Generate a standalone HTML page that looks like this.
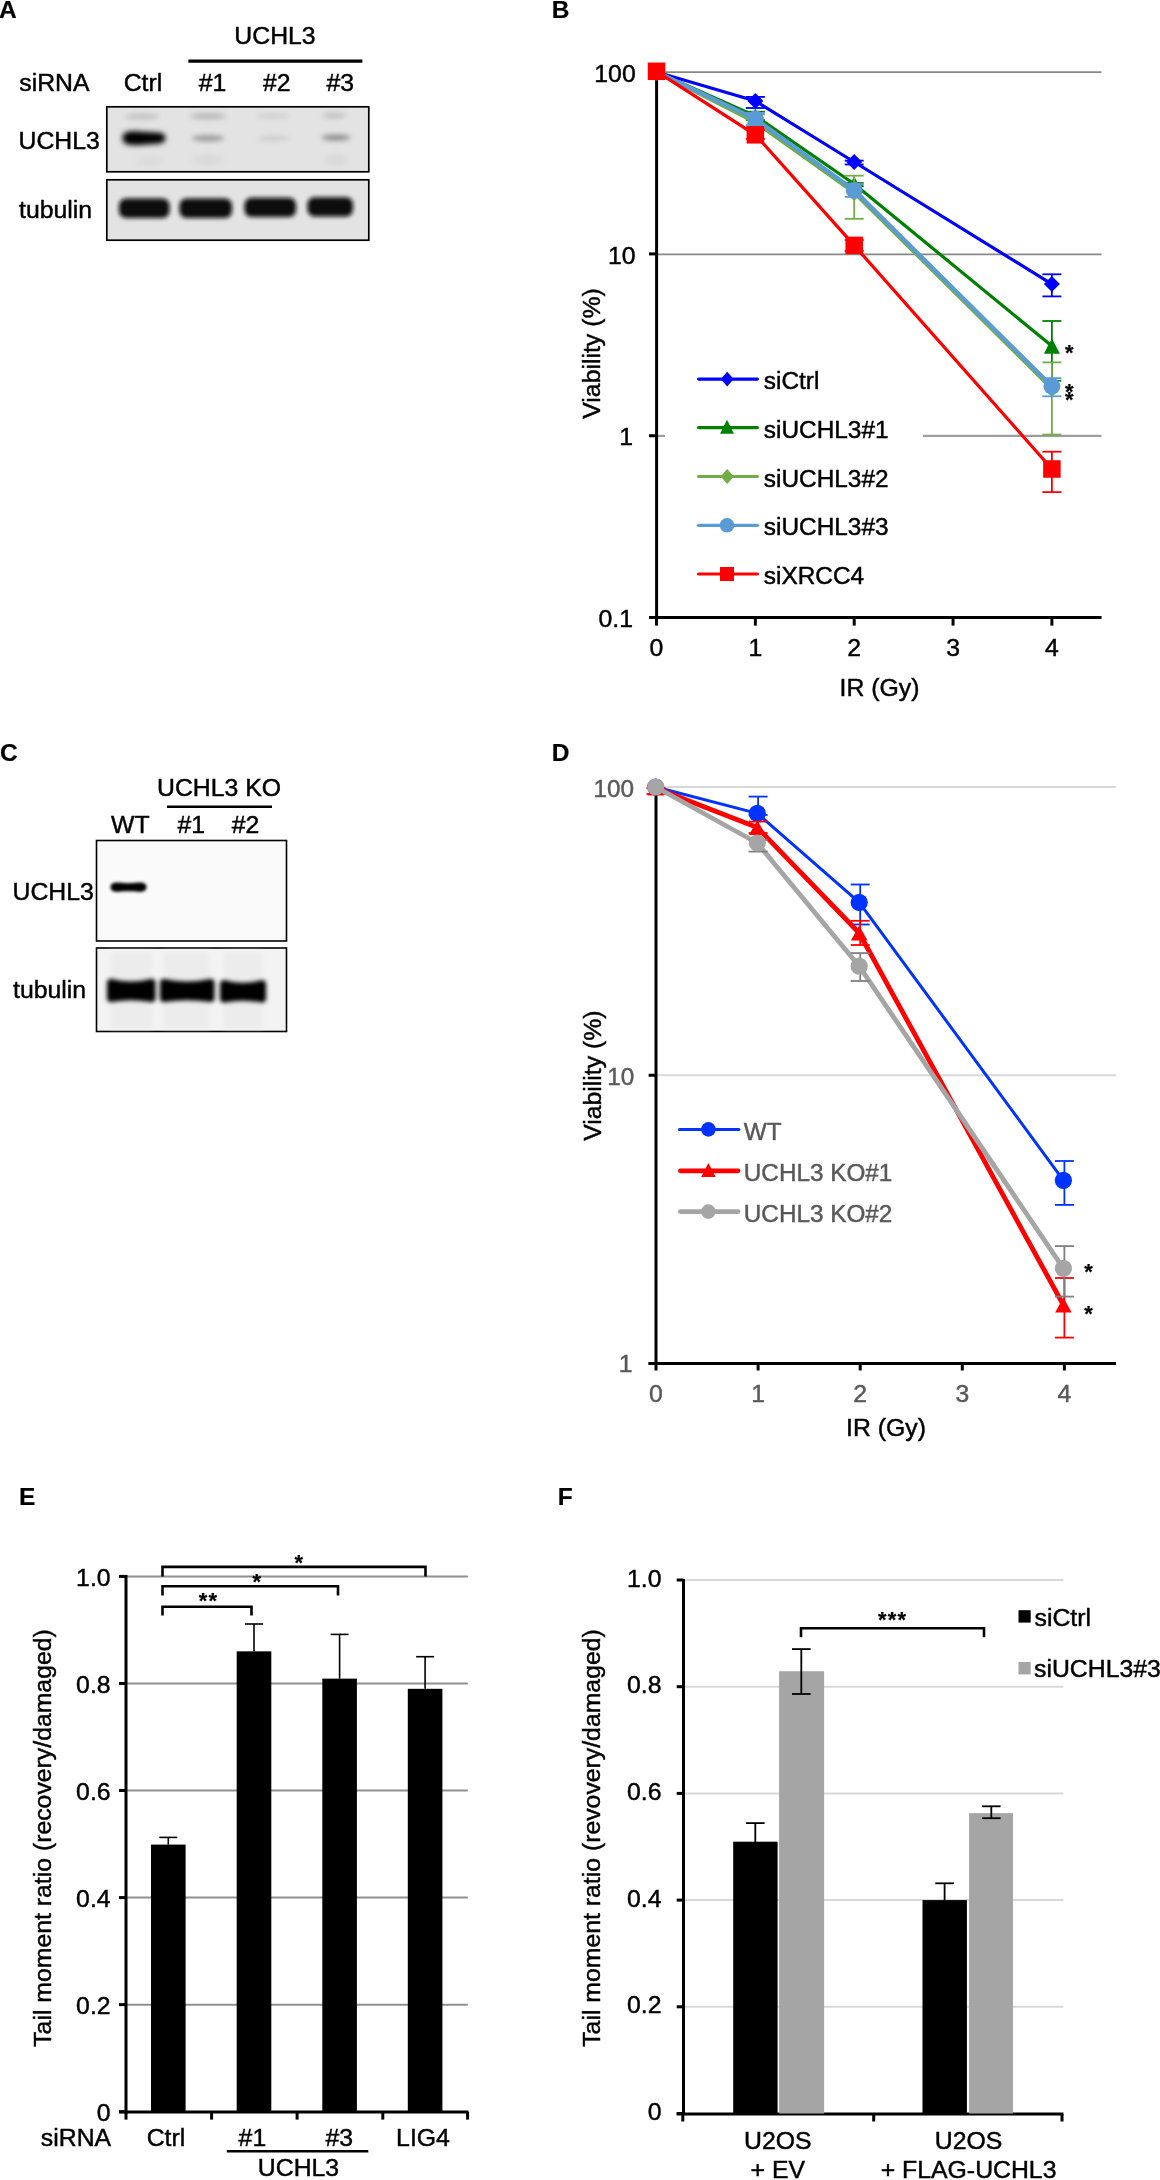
<!DOCTYPE html>
<html><head><meta charset="utf-8"><style>
html,body{margin:0;padding:0;background:#fff;}
body{width:1160px;height:2180px;overflow:hidden;}
svg{display:block;font-family:"Liberation Sans", sans-serif;will-change:transform;}
</style></head><body>
<svg width="1160" height="2180" viewBox="0 0 1160 2180">
<defs>
<filter id="blur3" x="-50%" y="-50%" width="200%" height="200%"><feGaussianBlur stdDeviation="2.6"/></filter>
<filter id="blur2" x="-50%" y="-50%" width="200%" height="200%"><feGaussianBlur stdDeviation="1.6"/></filter>
<filter id="blur22" x="-50%" y="-50%" width="200%" height="200%"><feGaussianBlur stdDeviation="2.1"/></filter>
<filter id="blur15" x="-50%" y="-50%" width="200%" height="200%"><feGaussianBlur stdDeviation="0.8"/></filter>
</defs>
<rect width="1160" height="2180" fill="#fff"/>
<text x="-1" y="17.8" font-size="24.5" text-anchor="start" fill="#000" stroke="#000" stroke-width="0.2" font-weight="bold" >A</text>
<text x="551.8" y="17.8" font-size="24.5" text-anchor="start" fill="#000" stroke="#000" stroke-width="0.2" font-weight="bold" >B</text>
<text x="0" y="760.6" font-size="24.5" text-anchor="start" fill="#000" stroke="#000" stroke-width="0.2" font-weight="bold" >C</text>
<text x="551.8" y="760.7" font-size="24.5" text-anchor="start" fill="#000" stroke="#000" stroke-width="0.2" font-weight="bold" >D</text>
<text x="19" y="1504.7" font-size="24.5" text-anchor="start" fill="#000" stroke="#000" stroke-width="0.2" font-weight="bold" >E</text>
<text x="557.8" y="1504.7" font-size="24.5" text-anchor="start" fill="#000" stroke="#000" stroke-width="0.2" font-weight="bold" >F</text>
<text x="275" y="43.6" font-size="24.8" text-anchor="middle" fill="#000" stroke="#000" stroke-width="0.45" font-weight="normal" >UCHL3</text>
<line x1="188.4" y1="61.2" x2="362.4" y2="61.2" stroke="#000" stroke-width="3.2" />
<text x="19.3" y="90.8" font-size="24.8" text-anchor="start" fill="#000" stroke="#000" stroke-width="0.45" font-weight="normal" >siRNA</text>
<text x="143" y="90.8" font-size="24.8" text-anchor="middle" fill="#000" stroke="#000" stroke-width="0.45" font-weight="normal" >Ctrl</text>
<text x="212.5" y="90.8" font-size="24.8" text-anchor="middle" fill="#000" stroke="#000" stroke-width="0.45" font-weight="normal" >#1</text>
<text x="276.8" y="90.8" font-size="24.8" text-anchor="middle" fill="#000" stroke="#000" stroke-width="0.45" font-weight="normal" >#2</text>
<text x="340.3" y="90.8" font-size="24.8" text-anchor="middle" fill="#000" stroke="#000" stroke-width="0.45" font-weight="normal" >#3</text>
<text x="18.5" y="149" font-size="24.8" text-anchor="start" fill="#000" stroke="#000" stroke-width="0.45" font-weight="normal" >UCHL3</text>
<text x="19" y="218.4" font-size="24.8" text-anchor="start" fill="#000" stroke="#000" stroke-width="0.45" font-weight="normal" >tubulin</text>
<rect x="106.8" y="106.8" width="262" height="65" fill="#e3e3e3" stroke="#000" stroke-width="1.7"/>
<rect x="106.8" y="179.8" width="262" height="60.4" fill="#e3e3e3" stroke="#000" stroke-width="1.7"/>
<g filter="url(#blur3)">
<ellipse cx="142" cy="116.5" rx="18" ry="3" fill="#c2c2c2"/>
<ellipse cx="208" cy="116.2" rx="18" ry="3.2" fill="#b9b9b9"/>
<ellipse cx="273" cy="116" rx="17" ry="2.6" fill="#cdcdcd"/>
<ellipse cx="334" cy="115.5" rx="12" ry="3.2" fill="#c4c4c4"/>
<ellipse cx="208" cy="160" rx="16" ry="6" fill="#dadada"/>
<ellipse cx="336" cy="160" rx="12" ry="6" fill="#dadada"/>
<ellipse cx="150" cy="161" rx="14" ry="5" fill="#dcdcdc"/>
<g filter="url(#blur15)"><path d="M122.5,138 C122.5,131 130,131 140,131.6 L160,132.8 C167,133.4 167.5,142.6 160,143.4 L140,145 C130,145.6 122.5,145 122.5,138 Z" fill="#000"/></g>
<ellipse cx="208" cy="138.3" rx="16" ry="3.2" fill="#9c9c9c"/>
<ellipse cx="274" cy="138.5" rx="16" ry="2.6" fill="#cbcbcb"/>
<ellipse cx="336" cy="137.6" rx="14" ry="3.2" fill="#8d8d8d"/>
</g>
<g filter="url(#blur22)">
<rect x="119.0" y="198.5" width="50.5" height="19.5" rx="7" fill="#0c0c0c"/>
<rect x="179.5" y="198.5" width="52.5" height="19.5" rx="7" fill="#0c0c0c"/>
<rect x="244.5" y="197.8" width="51.5" height="19.299999999999983" rx="7" fill="#0c0c0c"/>
<rect x="307.5" y="197.3" width="45.5" height="19.19999999999999" rx="7" fill="#0c0c0c"/>
</g>
<text x="219" y="796.3" font-size="24.8" text-anchor="middle" fill="#000" stroke="#000" stroke-width="0.45" font-weight="normal" >UCHL3 KO</text>
<line x1="167" y1="806.8" x2="272" y2="806.8" stroke="#000" stroke-width="2.6" />
<text x="130.3" y="832.5" font-size="24.8" text-anchor="middle" fill="#000" stroke="#000" stroke-width="0.45" font-weight="normal" >WT</text>
<text x="191.3" y="832.5" font-size="24.8" text-anchor="middle" fill="#000" stroke="#000" stroke-width="0.45" font-weight="normal" >#1</text>
<text x="245.6" y="832.5" font-size="24.8" text-anchor="middle" fill="#000" stroke="#000" stroke-width="0.45" font-weight="normal" >#2</text>
<text x="12.5" y="899.7" font-size="24.8" text-anchor="start" fill="#000" stroke="#000" stroke-width="0.45" font-weight="normal" >UCHL3</text>
<text x="13" y="997.6" font-size="24.8" text-anchor="start" fill="#000" stroke="#000" stroke-width="0.45" font-weight="normal" >tubulin</text>
<rect x="96.5" y="840.5" width="190" height="100.5" fill="#fafafa" stroke="#000" stroke-width="1.6"/>
<rect x="96.5" y="948" width="190" height="83.5" fill="#f3f3f3" stroke="#000" stroke-width="1.6"/>
<g filter="url(#blur3)">
<rect x="110" y="952" width="42" height="76" fill="#ececec"/>
<rect x="164" y="952" width="46" height="76" fill="#ececec"/>
<rect x="224" y="952" width="38" height="76" fill="#ececec"/>
</g>
<g filter="url(#blur2)">
<path d="M110.5,887 C110.5,882.3 116,882.3 121,882.8 C126,883.3 131,883.3 136,882.8 C141,882.3 146.5,882.3 146.5,887 C146.5,892 141,892.3 136,891.6 C131,891 126,891 121,891.6 C116,892.3 110.5,892 110.5,887 Z" fill="#000"/>
</g><g filter="url(#blur22)">
<path d="M107,982.8 C107,978.8 110,978.8 113,979.3 Q131.25,983.92 149.5,979.3 C152.5,978.8 155.5,978.8 155.5,982.8 L155.5,998.3 C155.5,1002.3 152.5,1002.3 149.5,1001.8 Q131.25,998.78 113,1001.8 C110,1002.3 107,1002.3 107,998.3 Z" fill="#000"/>
<path d="M160,982.8 C160,978.8 163,978.8 166,979.3 Q187.25,983.92 208.5,979.3 C211.5,978.8 214.5,978.8 214.5,982.8 L214.5,998.3 C214.5,1002.3 211.5,1002.3 208.5,1001.8 Q187.25,998.78 166,1001.8 C163,1002.3 160,1002.3 160,998.3 Z" fill="#000"/>
<path d="M220,984 C220,980 223,980 226,980.5 Q243.0,985.12 260,980.5 C263,980 266,980 266,984 L266,998.8 C266,1002.8 263,1002.8 260,1002.3 Q243.0,999.28 226,1002.3 C223,1002.8 220,1002.8 220,998.8 Z" fill="#000"/>
</g>
<line x1="657" y1="72.05" x2="1101.5" y2="72.05" stroke="#888" stroke-width="1.8" />
<line x1="657" y1="254.3" x2="1101.5" y2="254.3" stroke="#888" stroke-width="1.8" />
<line x1="657" y1="435.9" x2="665" y2="435.9" stroke="#9d9d9d" stroke-width="2.2" />
<line x1="923" y1="435.9" x2="1101.5" y2="435.9" stroke="#9d9d9d" stroke-width="2.2" />
<line x1="656.6" y1="70.5" x2="656.6" y2="619" stroke="#000" stroke-width="3" />
<line x1="649" y1="617.6" x2="1101.5" y2="617.6" stroke="#000" stroke-width="3" />
<line x1="649" y1="72.05" x2="657" y2="72.05" stroke="#000" stroke-width="3" />
<line x1="649" y1="253.89999999999998" x2="657" y2="253.89999999999998" stroke="#000" stroke-width="3" />
<line x1="649" y1="435.75" x2="657" y2="435.75" stroke="#000" stroke-width="3" />
<line x1="656.5" y1="617.6" x2="656.5" y2="625.6" stroke="#000" stroke-width="3" />
<line x1="755.35" y1="617.6" x2="755.35" y2="625.6" stroke="#000" stroke-width="3" />
<line x1="854.2" y1="617.6" x2="854.2" y2="625.6" stroke="#000" stroke-width="3" />
<line x1="953.05" y1="617.6" x2="953.05" y2="625.6" stroke="#000" stroke-width="3" />
<line x1="1051.9" y1="617.6" x2="1051.9" y2="625.6" stroke="#000" stroke-width="3" />
<text x="656.5" y="656" font-size="24.8" text-anchor="middle" fill="#000" stroke="#000" stroke-width="0.45" font-weight="normal" >0</text>
<text x="755.35" y="656" font-size="24.8" text-anchor="middle" fill="#000" stroke="#000" stroke-width="0.45" font-weight="normal" >1</text>
<text x="854.2" y="656" font-size="24.8" text-anchor="middle" fill="#000" stroke="#000" stroke-width="0.45" font-weight="normal" >2</text>
<text x="953.05" y="656" font-size="24.8" text-anchor="middle" fill="#000" stroke="#000" stroke-width="0.45" font-weight="normal" >3</text>
<text x="1051.9" y="656" font-size="24.8" text-anchor="middle" fill="#000" stroke="#000" stroke-width="0.45" font-weight="normal" >4</text>
<text x="635.7" y="82" font-size="24.8" text-anchor="end" fill="#000" stroke="#000" stroke-width="0.45" font-weight="normal" >100</text>
<text x="635.5" y="263.8" font-size="24.8" text-anchor="end" fill="#000" stroke="#000" stroke-width="0.45" font-weight="normal" >10</text>
<text x="633" y="445" font-size="24.8" text-anchor="end" fill="#000" stroke="#000" stroke-width="0.45" font-weight="normal" >1</text>
<text x="633" y="627.4" font-size="24.8" text-anchor="end" fill="#000" stroke="#000" stroke-width="0.45" font-weight="normal" >0.1</text>
<text x="879.5" y="695.5" font-size="24.8" text-anchor="middle" fill="#000" stroke="#000" stroke-width="0.45" font-weight="normal" >IR (Gy)</text>
<text x="600" y="353.5" font-size="24.8" text-anchor="middle" fill="#000" stroke="#000" stroke-width="0.45" font-weight="normal" transform="rotate(-90 600 353.5)">Viability (%)</text>
<path d="M656.5,72.0 L755.4,101.0 L854.2,162.0 L1051.9,284.1" fill="none" stroke="#0000ff" stroke-width="3.2" stroke-linejoin="round"/>
<line x1="755.35" y1="96.9" x2="755.35" y2="108" stroke="#0000ff" stroke-width="1.8" />
<line x1="745.85" y1="96.9" x2="764.85" y2="96.9" stroke="#0000ff" stroke-width="1.8" />
<line x1="745.85" y1="108" x2="764.85" y2="108" stroke="#0000ff" stroke-width="1.8" />
<line x1="854.2" y1="160.6" x2="854.2" y2="164.5" stroke="#0000ff" stroke-width="1.8" />
<line x1="844.7" y1="160.6" x2="863.7" y2="160.6" stroke="#0000ff" stroke-width="1.8" />
<line x1="844.7" y1="164.5" x2="863.7" y2="164.5" stroke="#0000ff" stroke-width="1.8" />
<line x1="1051.9" y1="274.3" x2="1051.9" y2="296.4" stroke="#0000ff" stroke-width="1.8" />
<line x1="1042.4" y1="274.3" x2="1061.4" y2="274.3" stroke="#0000ff" stroke-width="1.8" />
<line x1="1042.4" y1="296.4" x2="1061.4" y2="296.4" stroke="#0000ff" stroke-width="1.8" />
<path d="M656.5,64.0 L664.5,72 L656.5,80.0 L648.5,72 Z" fill="#0000ff" stroke="none" stroke-width="1" />
<path d="M755.35,93.0 L763.35,101 L755.35,109.0 L747.35,101 Z" fill="#0000ff" stroke="none" stroke-width="1" />
<path d="M854.2,154.0 L862.2,162 L854.2,170.0 L846.2,162 Z" fill="#0000ff" stroke="none" stroke-width="1" />
<path d="M1051.9,276.1 L1059.9,284.1 L1051.9,292.1 L1043.9,284.1 Z" fill="#0000ff" stroke="none" stroke-width="1" />
<path d="M656.5,72.0 L755.4,116.0 L854.2,184.0 L1051.9,346.0" fill="none" stroke="#008000" stroke-width="3.2" stroke-linejoin="round"/>
<line x1="755.35" y1="111.7" x2="755.35" y2="120" stroke="#008000" stroke-width="1.8" />
<line x1="745.85" y1="111.7" x2="764.85" y2="111.7" stroke="#008000" stroke-width="1.8" />
<line x1="745.85" y1="120" x2="764.85" y2="120" stroke="#008000" stroke-width="1.8" />
<line x1="854.2" y1="183" x2="854.2" y2="186" stroke="#008000" stroke-width="1.8" />
<line x1="844.7" y1="183" x2="863.7" y2="183" stroke="#008000" stroke-width="1.8" />
<line x1="844.7" y1="186" x2="863.7" y2="186" stroke="#008000" stroke-width="1.8" />
<line x1="1051.9" y1="321" x2="1051.9" y2="380.7" stroke="#008000" stroke-width="1.8" />
<line x1="1042.4" y1="321" x2="1061.4" y2="321" stroke="#008000" stroke-width="1.8" />
<line x1="1042.4" y1="380.7" x2="1061.4" y2="380.7" stroke="#008000" stroke-width="1.8" />
<path d="M656.5,64.25 L664.5,79.75 L648.5,79.75 Z" fill="#008000" stroke="none" stroke-width="1" />
<path d="M755.35,108.25 L763.35,123.75 L747.35,123.75 Z" fill="#008000" stroke="none" stroke-width="1" />
<path d="M854.2,176.25 L862.2,191.75 L846.2,191.75 Z" fill="#008000" stroke="none" stroke-width="1" />
<path d="M1051.9,338.25 L1059.9,353.75 L1043.9,353.75 Z" fill="#008000" stroke="none" stroke-width="1" />
<path d="M656.5,72.0 L755.4,122.5 L854.2,193.0 L1051.9,389.0" fill="none" stroke="#70ad47" stroke-width="3.2" stroke-linejoin="round"/>
<line x1="755.35" y1="114.5" x2="755.35" y2="127" stroke="#70ad47" stroke-width="1.8" />
<line x1="745.85" y1="114.5" x2="764.85" y2="114.5" stroke="#70ad47" stroke-width="1.8" />
<line x1="745.85" y1="127" x2="764.85" y2="127" stroke="#70ad47" stroke-width="1.8" />
<line x1="854.2" y1="175.7" x2="854.2" y2="218.8" stroke="#70ad47" stroke-width="1.8" />
<line x1="844.7" y1="175.7" x2="863.7" y2="175.7" stroke="#70ad47" stroke-width="1.8" />
<line x1="844.7" y1="218.8" x2="863.7" y2="218.8" stroke="#70ad47" stroke-width="1.8" />
<line x1="1051.9" y1="362.4" x2="1051.9" y2="434.6" stroke="#70ad47" stroke-width="1.8" />
<line x1="1042.4" y1="362.4" x2="1061.4" y2="362.4" stroke="#70ad47" stroke-width="1.8" />
<line x1="1042.4" y1="434.6" x2="1061.4" y2="434.6" stroke="#70ad47" stroke-width="1.8" />
<path d="M656.5,64.0 L664.5,72 L656.5,80.0 L648.5,72 Z" fill="#70ad47" stroke="none" stroke-width="1" />
<path d="M755.35,114.5 L763.35,122.5 L755.35,130.5 L747.35,122.5 Z" fill="#70ad47" stroke="none" stroke-width="1" />
<path d="M854.2,185.0 L862.2,193 L854.2,201.0 L846.2,193 Z" fill="#70ad47" stroke="none" stroke-width="1" />
<path d="M1051.9,381.0 L1059.9,389 L1051.9,397.0 L1043.9,389 Z" fill="#70ad47" stroke="none" stroke-width="1" />
<path d="M656.5,72.0 L755.4,118.8 L854.2,190.3 L1051.9,386.2" fill="none" stroke="#5b9bd5" stroke-width="4.2" stroke-linejoin="round"/>
<line x1="755.35" y1="113" x2="755.35" y2="125" stroke="#5b9bd5" stroke-width="1.8" />
<line x1="745.85" y1="113" x2="764.85" y2="113" stroke="#5b9bd5" stroke-width="1.8" />
<line x1="745.85" y1="125" x2="764.85" y2="125" stroke="#5b9bd5" stroke-width="1.8" />
<line x1="854.2" y1="184.1" x2="854.2" y2="196.9" stroke="#5b9bd5" stroke-width="1.8" />
<line x1="844.7" y1="184.1" x2="863.7" y2="184.1" stroke="#5b9bd5" stroke-width="1.8" />
<line x1="844.7" y1="196.9" x2="863.7" y2="196.9" stroke="#5b9bd5" stroke-width="1.8" />
<line x1="1051.9" y1="378.1" x2="1051.9" y2="396.3" stroke="#5b9bd5" stroke-width="1.8" />
<line x1="1042.4" y1="378.1" x2="1061.4" y2="378.1" stroke="#5b9bd5" stroke-width="1.8" />
<line x1="1042.4" y1="396.3" x2="1061.4" y2="396.3" stroke="#5b9bd5" stroke-width="1.8" />
<circle cx="656.5" cy="72" r="8.4" fill="#5b9bd5"/>
<circle cx="755.35" cy="118.8" r="8.4" fill="#5b9bd5"/>
<circle cx="854.2" cy="190.3" r="8.4" fill="#5b9bd5"/>
<circle cx="1051.9" cy="386.2" r="8.4" fill="#5b9bd5"/>
<path d="M656.5,71.3 L755.4,134.8 L854.2,245.4 L1051.9,469.0" fill="none" stroke="#ff0000" stroke-width="3.2" stroke-linejoin="round"/>
<line x1="755.35" y1="130" x2="755.35" y2="139" stroke="#ff0000" stroke-width="1.8" />
<line x1="745.85" y1="130" x2="764.85" y2="130" stroke="#ff0000" stroke-width="1.8" />
<line x1="745.85" y1="139" x2="764.85" y2="139" stroke="#ff0000" stroke-width="1.8" />
<line x1="854.2" y1="240" x2="854.2" y2="251" stroke="#ff0000" stroke-width="1.8" />
<line x1="844.7" y1="240" x2="863.7" y2="240" stroke="#ff0000" stroke-width="1.8" />
<line x1="844.7" y1="251" x2="863.7" y2="251" stroke="#ff0000" stroke-width="1.8" />
<line x1="1051.9" y1="451.7" x2="1051.9" y2="492.1" stroke="#ff0000" stroke-width="1.8" />
<line x1="1042.4" y1="451.7" x2="1061.4" y2="451.7" stroke="#ff0000" stroke-width="1.8" />
<line x1="1042.4" y1="492.1" x2="1061.4" y2="492.1" stroke="#ff0000" stroke-width="1.8" />
<rect x="647.75" y="62.55" width="17.5" height="17.5" fill="#ff0000" />
<rect x="746.6" y="126.05000000000001" width="17.5" height="17.5" fill="#ff0000" />
<rect x="845.45" y="236.65" width="17.5" height="17.5" fill="#ff0000" />
<rect x="1043.15" y="460.25" width="17.5" height="17.5" fill="#ff0000" />
<text x="1065" y="360.2" font-size="22" text-anchor="start" fill="#000" stroke="#000" stroke-width="0.2" font-weight="bold" letter-spacing="1.2">*</text>
<text x="1065" y="399.2" font-size="22" text-anchor="start" fill="#000" stroke="#000" stroke-width="0.2" font-weight="bold" letter-spacing="1.2">*</text>
<text x="1065" y="407.3" font-size="22" text-anchor="start" fill="#000" stroke="#000" stroke-width="0.2" font-weight="bold" letter-spacing="1.2">*</text>
<line x1="698.6" y1="379.1" x2="757.4" y2="379.1" stroke="#0000ff" stroke-width="3.2" stroke-linecap="round"/>
<path d="M727.2,371.70000000000005 L733.7,379.1 L727.2,386.5 L720.7,379.1 Z" fill="#0000ff" stroke="none" stroke-width="1" />
<text x="763.8" y="389.1" font-size="24.4" text-anchor="start" fill="#000" stroke="#000" stroke-width="0.45" font-weight="normal" >siCtrl</text>
<line x1="698.6" y1="427.6" x2="757.4" y2="427.6" stroke="#008000" stroke-width="3.2" stroke-linecap="round"/>
<path d="M727,419.8 L734.0,433.8 L720.0,433.8 Z" fill="#008000" stroke="none" stroke-width="1" />
<text x="763.8" y="437.6" font-size="24.4" text-anchor="start" fill="#000" stroke="#000" stroke-width="0.45" font-weight="normal" >siUCHL3#1</text>
<line x1="698.6" y1="476.5" x2="757.4" y2="476.5" stroke="#70ad47" stroke-width="3.2" stroke-linecap="round"/>
<path d="M727.2,469.1 L733.7,476.5 L727.2,483.9 L720.7,476.5 Z" fill="#70ad47" stroke="none" stroke-width="1" />
<text x="763.8" y="486.5" font-size="24.4" text-anchor="start" fill="#000" stroke="#000" stroke-width="0.45" font-weight="normal" >siUCHL3#2</text>
<line x1="698.6" y1="525.3" x2="757.4" y2="525.3" stroke="#5b9bd5" stroke-width="3.2" stroke-linecap="round"/>
<circle cx="727" cy="525.3" r="7.3" fill="#5b9bd5"/>
<text x="763.8" y="535.3" font-size="24.4" text-anchor="start" fill="#000" stroke="#000" stroke-width="0.45" font-weight="normal" >siUCHL3#3</text>
<line x1="698.6" y1="574" x2="757.4" y2="574" stroke="#ff0000" stroke-width="3.2" stroke-linecap="round"/>
<rect x="720.0" y="567.0" width="14" height="14" fill="#ff0000" />
<text x="763.8" y="584" font-size="24.4" text-anchor="start" fill="#000" stroke="#000" stroke-width="0.45" font-weight="normal" >siXRCC4</text>
<line x1="657" y1="787.0" x2="1116" y2="787.0" stroke="#d9d9d9" stroke-width="2" />
<line x1="657" y1="1075.25" x2="1116" y2="1075.25" stroke="#d9d9d9" stroke-width="2" />
<line x1="656" y1="786" x2="656" y2="1365" stroke="#000" stroke-width="3" />
<line x1="648.6" y1="1363.5" x2="1116" y2="1363.5" stroke="#000" stroke-width="3" />
<line x1="648.6" y1="787.0" x2="656" y2="787.0" stroke="#000" stroke-width="3" />
<line x1="648.6" y1="1075.25" x2="656" y2="1075.25" stroke="#000" stroke-width="3" />
<line x1="648.6" y1="1363.5" x2="656" y2="1363.5" stroke="#000" stroke-width="3" />
<line x1="656.0" y1="1363.5" x2="656.0" y2="1370.5" stroke="#000" stroke-width="3" />
<line x1="758.1" y1="1363.5" x2="758.1" y2="1370.5" stroke="#000" stroke-width="3" />
<line x1="860.2" y1="1363.5" x2="860.2" y2="1370.5" stroke="#000" stroke-width="3" />
<line x1="962.3" y1="1363.5" x2="962.3" y2="1370.5" stroke="#000" stroke-width="3" />
<line x1="1064.4" y1="1363.5" x2="1064.4" y2="1370.5" stroke="#000" stroke-width="3" />
<text x="656.0" y="1402" font-size="24.8" text-anchor="middle" fill="#595959" stroke="#595959" stroke-width="0.45" font-weight="normal" >0</text>
<text x="758.1" y="1402" font-size="24.8" text-anchor="middle" fill="#595959" stroke="#595959" stroke-width="0.45" font-weight="normal" >1</text>
<text x="860.2" y="1402" font-size="24.8" text-anchor="middle" fill="#595959" stroke="#595959" stroke-width="0.45" font-weight="normal" >2</text>
<text x="962.3" y="1402" font-size="24.8" text-anchor="middle" fill="#595959" stroke="#595959" stroke-width="0.45" font-weight="normal" >3</text>
<text x="1064.4" y="1402" font-size="24.8" text-anchor="middle" fill="#595959" stroke="#595959" stroke-width="0.45" font-weight="normal" >4</text>
<text x="634" y="797" font-size="24.3" text-anchor="end" fill="#595959" stroke="#595959" stroke-width="0.45" font-weight="normal" >100</text>
<text x="634.3" y="1085" font-size="24.3" text-anchor="end" fill="#595959" stroke="#595959" stroke-width="0.45" font-weight="normal" >10</text>
<text x="632.5" y="1372.4" font-size="24.8" text-anchor="end" fill="#595959" stroke="#595959" stroke-width="0.45" font-weight="normal" >1</text>
<text x="886" y="1435.5" font-size="24.8" text-anchor="middle" fill="#000" stroke="#000" stroke-width="0.45" font-weight="normal" >IR (Gy)</text>
<text x="601.3" y="1075.6" font-size="24.8" text-anchor="middle" fill="#000" stroke="#000" stroke-width="0.45" font-weight="normal" transform="rotate(-90 601.3 1075.6)">Viability (%)</text>
<path d="M655.7,787.0 L757.3,813.4 L859.2,902.4 L1063.4,1180.3" fill="none" stroke="#0033ff" stroke-width="3" stroke-linejoin="round"/>
<line x1="758.1" y1="796.6" x2="758.1" y2="815" stroke="#0033ff" stroke-width="1.8" />
<line x1="748.6" y1="796.6" x2="767.6" y2="796.6" stroke="#0033ff" stroke-width="1.8" />
<line x1="748.6" y1="815" x2="767.6" y2="815" stroke="#0033ff" stroke-width="1.8" />
<line x1="860.2" y1="884.5" x2="860.2" y2="924.5" stroke="#0033ff" stroke-width="1.8" />
<line x1="850.7" y1="884.5" x2="869.7" y2="884.5" stroke="#0033ff" stroke-width="1.8" />
<line x1="850.7" y1="924.5" x2="869.7" y2="924.5" stroke="#0033ff" stroke-width="1.8" />
<line x1="1064.4" y1="1161" x2="1064.4" y2="1204.9" stroke="#0033ff" stroke-width="1.8" />
<line x1="1054.9" y1="1161" x2="1073.9" y2="1161" stroke="#0033ff" stroke-width="1.8" />
<line x1="1054.9" y1="1204.9" x2="1073.9" y2="1204.9" stroke="#0033ff" stroke-width="1.8" />
<circle cx="655.7" cy="787" r="8.6" fill="#0033ff"/>
<circle cx="757.3000000000001" cy="813.4" r="8.6" fill="#0033ff"/>
<circle cx="859.2" cy="902.4" r="8.6" fill="#0033ff"/>
<circle cx="1063.4" cy="1180.3" r="8.6" fill="#0033ff"/>
<path d="M655.7,788.0 L757.3,827.5 L859.2,933.0 L1063.4,1305.0" fill="none" stroke="#ff0000" stroke-width="4.8" stroke-linejoin="round"/>
<line x1="656.0" y1="788" x2="656.0" y2="794" stroke="#ff0000" stroke-width="1.8" />
<line x1="646.5" y1="788" x2="665.5" y2="788" stroke="#ff0000" stroke-width="1.8" />
<line x1="646.5" y1="794" x2="665.5" y2="794" stroke="#ff0000" stroke-width="1.8" />
<line x1="758.1" y1="821.6" x2="758.1" y2="833" stroke="#ff0000" stroke-width="1.8" />
<line x1="748.6" y1="821.6" x2="767.6" y2="821.6" stroke="#ff0000" stroke-width="1.8" />
<line x1="748.6" y1="833" x2="767.6" y2="833" stroke="#ff0000" stroke-width="1.8" />
<line x1="860.2" y1="920.8" x2="860.2" y2="945" stroke="#ff0000" stroke-width="1.8" />
<line x1="850.7" y1="920.8" x2="869.7" y2="920.8" stroke="#ff0000" stroke-width="1.8" />
<line x1="850.7" y1="945" x2="869.7" y2="945" stroke="#ff0000" stroke-width="1.8" />
<line x1="1064.4" y1="1278" x2="1064.4" y2="1337.6" stroke="#ff0000" stroke-width="1.8" />
<line x1="1054.9" y1="1278" x2="1073.9" y2="1278" stroke="#ff0000" stroke-width="1.8" />
<line x1="1054.9" y1="1337.6" x2="1073.9" y2="1337.6" stroke="#ff0000" stroke-width="1.8" />
<path d="M655.7,780.5 L663.95,795.5 L647.45,795.5 Z" fill="#ff0000" stroke="none" stroke-width="1" />
<path d="M757.3000000000001,820.0 L765.5500000000001,835.0 L749.0500000000001,835.0 Z" fill="#ff0000" stroke="none" stroke-width="1" />
<path d="M859.2,925.5 L867.45,940.5 L850.95,940.5 Z" fill="#ff0000" stroke="none" stroke-width="1" />
<path d="M1063.4,1297.5 L1071.65,1312.5 L1055.15,1312.5 Z" fill="#ff0000" stroke="none" stroke-width="1" />
<path d="M655.7,787.0 L757.3,843.0 L859.2,966.2 L1063.4,1268.3" fill="none" stroke="#a5a5a5" stroke-width="4.8" stroke-linejoin="round"/>
<line x1="758.1" y1="840" x2="758.1" y2="851.6" stroke="#7f7f7f" stroke-width="1.8" />
<line x1="748.6" y1="840" x2="767.6" y2="840" stroke="#7f7f7f" stroke-width="1.8" />
<line x1="748.6" y1="851.6" x2="767.6" y2="851.6" stroke="#7f7f7f" stroke-width="1.8" />
<line x1="860.2" y1="953.1" x2="860.2" y2="981" stroke="#7f7f7f" stroke-width="1.8" />
<line x1="850.7" y1="953.1" x2="869.7" y2="953.1" stroke="#7f7f7f" stroke-width="1.8" />
<line x1="850.7" y1="981" x2="869.7" y2="981" stroke="#7f7f7f" stroke-width="1.8" />
<line x1="1064.4" y1="1246.1" x2="1064.4" y2="1296.6" stroke="#7f7f7f" stroke-width="1.8" />
<line x1="1054.9" y1="1246.1" x2="1073.9" y2="1246.1" stroke="#7f7f7f" stroke-width="1.8" />
<line x1="1054.9" y1="1296.6" x2="1073.9" y2="1296.6" stroke="#7f7f7f" stroke-width="1.8" />
<circle cx="655.7" cy="787" r="8.6" fill="#a5a5a5"/>
<circle cx="757.3000000000001" cy="843" r="8.6" fill="#a5a5a5"/>
<circle cx="859.2" cy="966.2" r="8.6" fill="#a5a5a5"/>
<circle cx="1063.4" cy="1268.3" r="8.6" fill="#a5a5a5"/>
<text x="1084.2" y="1279.2" font-size="22" text-anchor="start" fill="#000" stroke="#000" stroke-width="0.2" font-weight="bold" letter-spacing="1.2">*</text>
<text x="1084.2" y="1321" font-size="22" text-anchor="start" fill="#000" stroke="#000" stroke-width="0.2" font-weight="bold" letter-spacing="1.2">*</text>
<line x1="679.5" y1="1129.4" x2="738.9" y2="1129.4" stroke="#0033ff" stroke-width="3" stroke-linecap="round"/>
<circle cx="708.4" cy="1129.4" r="7.3" fill="#0033ff"/>
<text x="743.8" y="1139.9" font-size="24.3" text-anchor="start" fill="#595959" stroke="#595959" stroke-width="0.45" font-weight="normal" >WT</text>
<line x1="680.4" y1="1170.8" x2="738.0" y2="1170.8" stroke="#ff0000" stroke-width="4.8" stroke-linecap="round"/>
<path d="M708.4,1163.0 L715.65,1177.0 L701.15,1177.0 Z" fill="#ff0000" stroke="none" stroke-width="1" />
<text x="743.8" y="1181.3" font-size="24.3" text-anchor="start" fill="#595959" stroke="#595959" stroke-width="0.45" font-weight="normal" >UCHL3 KO#1</text>
<line x1="680.4" y1="1211.6" x2="738.0" y2="1211.6" stroke="#a5a5a5" stroke-width="4.8" stroke-linecap="round"/>
<circle cx="708.4" cy="1211.6" r="7.3" fill="#a5a5a5"/>
<text x="743.8" y="1222.1" font-size="24.3" text-anchor="start" fill="#595959" stroke="#595959" stroke-width="0.45" font-weight="normal" >UCHL3 KO#2</text>
<line x1="126" y1="2004.6399999999999" x2="467" y2="2004.6399999999999" stroke="#909090" stroke-width="2" stroke-linecap="round"/>
<line x1="126" y1="1897.58" x2="467" y2="1897.58" stroke="#909090" stroke-width="2" stroke-linecap="round"/>
<line x1="126" y1="1790.52" x2="467" y2="1790.52" stroke="#909090" stroke-width="2" stroke-linecap="round"/>
<line x1="126" y1="1683.46" x2="467" y2="1683.46" stroke="#909090" stroke-width="2" stroke-linecap="round"/>
<line x1="126" y1="1576.4" x2="467" y2="1576.4" stroke="#909090" stroke-width="2" stroke-linecap="round"/>
<line x1="126" y1="1575" x2="126" y2="2113.5" stroke="#000" stroke-width="3" />
<line x1="119" y1="2112" x2="468.5" y2="2112" stroke="#000" stroke-width="3" />
<line x1="119" y1="2111.7" x2="126" y2="2111.7" stroke="#000" stroke-width="3" />
<line x1="119" y1="2004.6399999999999" x2="126" y2="2004.6399999999999" stroke="#000" stroke-width="3" />
<line x1="119" y1="1897.58" x2="126" y2="1897.58" stroke="#000" stroke-width="3" />
<line x1="119" y1="1790.52" x2="126" y2="1790.52" stroke="#000" stroke-width="3" />
<line x1="119" y1="1683.46" x2="126" y2="1683.46" stroke="#000" stroke-width="3" />
<line x1="119" y1="1576.4" x2="126" y2="1576.4" stroke="#000" stroke-width="3" />
<line x1="126" y1="2112" x2="126" y2="2119.6" stroke="#000" stroke-width="3" />
<line x1="211.6" y1="2112" x2="211.6" y2="2119.6" stroke="#000" stroke-width="3" />
<line x1="297.1" y1="2112" x2="297.1" y2="2119.6" stroke="#000" stroke-width="3" />
<line x1="382.8" y1="2112" x2="382.8" y2="2119.6" stroke="#000" stroke-width="3" />
<line x1="467.6" y1="2112" x2="467.6" y2="2119.6" stroke="#000" stroke-width="3" />
<text x="110.6" y="2121.0" font-size="24.8" text-anchor="end" fill="#000" stroke="#000" stroke-width="0.45" font-weight="normal" >0</text>
<text x="110.6" y="2013.9399999999998" font-size="24.8" text-anchor="end" fill="#000" stroke="#000" stroke-width="0.45" font-weight="normal" >0.2</text>
<text x="110.6" y="1906.8799999999999" font-size="24.8" text-anchor="end" fill="#000" stroke="#000" stroke-width="0.45" font-weight="normal" >0.4</text>
<text x="110.6" y="1799.82" font-size="24.8" text-anchor="end" fill="#000" stroke="#000" stroke-width="0.45" font-weight="normal" >0.6</text>
<text x="110.6" y="1692.76" font-size="24.8" text-anchor="end" fill="#000" stroke="#000" stroke-width="0.45" font-weight="normal" >0.8</text>
<text x="110.6" y="1585.7" font-size="24.8" text-anchor="end" fill="#000" stroke="#000" stroke-width="0.45" font-weight="normal" >1.0</text>
<rect x="151.0" y="1844.5853" width="34.6" height="267.11469999999986" fill="#000" />
<line x1="168.3" y1="1837.4" x2="168.3" y2="1844.5853" stroke="#000" stroke-width="1.6" />
<line x1="159.3" y1="1837.4" x2="177.3" y2="1837.4" stroke="#000" stroke-width="1.6" />
<rect x="236.7" y="1651.342" width="34.6" height="460.3579999999997" fill="#000" />
<line x1="254" y1="1624" x2="254" y2="1651.342" stroke="#000" stroke-width="1.6" />
<line x1="245" y1="1624" x2="263" y2="1624" stroke="#000" stroke-width="1.6" />
<rect x="322.3" y="1678.6423" width="34.6" height="433.05769999999984" fill="#000" />
<line x1="339.6" y1="1634.4" x2="339.6" y2="1678.6423" stroke="#000" stroke-width="1.6" />
<line x1="330.6" y1="1634.4" x2="348.6" y2="1634.4" stroke="#000" stroke-width="1.6" />
<rect x="407.8" y="1688.813" width="34.6" height="422.8869999999997" fill="#000" />
<line x1="425.1" y1="1656.7" x2="425.1" y2="1688.813" stroke="#000" stroke-width="1.6" />
<line x1="416.1" y1="1656.7" x2="434.1" y2="1656.7" stroke="#000" stroke-width="1.6" />
<path d="M162.5,1576.5 L162.5,1566.9 L425.5,1566.9 L425.5,1576.5" fill="none" stroke="#000" stroke-width="2.6" />
<path d="M162.5,1595.5 L162.5,1586.3 L338,1586.3 L338,1595.5" fill="none" stroke="#000" stroke-width="2.6" />
<path d="M162.5,1615.5 L162.5,1606.8 L251.5,1606.8 L251.5,1615.5" fill="none" stroke="#000" stroke-width="2.6" />
<text x="294.5" y="1570" font-size="22" text-anchor="start" fill="#000" stroke="#000" stroke-width="0.2" font-weight="bold" letter-spacing="1.2">*</text>
<text x="252.5" y="1588.75" font-size="22" text-anchor="start" fill="#000" stroke="#000" stroke-width="0.2" font-weight="bold" letter-spacing="1.2">*</text>
<text x="198.75" y="1607.5" font-size="22" text-anchor="start" fill="#000" stroke="#000" stroke-width="0.2" font-weight="bold" letter-spacing="1.2">**</text>
<text x="76" y="2146" font-size="24.8" text-anchor="middle" fill="#000" stroke="#000" stroke-width="0.45" font-weight="normal" >siRNA</text>
<text x="166" y="2146" font-size="24.8" text-anchor="middle" fill="#000" stroke="#000" stroke-width="0.45" font-weight="normal" >Ctrl</text>
<text x="252.4" y="2146" font-size="24.8" text-anchor="middle" fill="#000" stroke="#000" stroke-width="0.45" font-weight="normal" >#1</text>
<text x="339.3" y="2146" font-size="24.8" text-anchor="middle" fill="#000" stroke="#000" stroke-width="0.45" font-weight="normal" >#3</text>
<text x="423" y="2146" font-size="24.8" text-anchor="middle" fill="#000" stroke="#000" stroke-width="0.45" font-weight="normal" >LIG4</text>
<line x1="226.8" y1="2151.3" x2="368.3" y2="2151.3" stroke="#000" stroke-width="2.6" />
<text x="298.5" y="2176" font-size="24.8" text-anchor="middle" fill="#000" stroke="#000" stroke-width="0.45" font-weight="normal" >UCHL3</text>
<text x="52.3" y="1837" font-size="24.8" text-anchor="middle" fill="#000" stroke="#000" stroke-width="0.45" font-weight="normal" transform="rotate(-90 52.3 1838)">Tail moment ratio (recovery/damaged)</text>
<line x1="685" y1="2006.8" x2="1063.3" y2="2006.8" stroke="#d9d9d9" stroke-width="2" />
<line x1="685" y1="1900.1" x2="1063.3" y2="1900.1" stroke="#d9d9d9" stroke-width="2" />
<line x1="685" y1="1793.4" x2="1063.3" y2="1793.4" stroke="#d9d9d9" stroke-width="2" />
<line x1="685" y1="1686.7" x2="1063.3" y2="1686.7" stroke="#d9d9d9" stroke-width="2" />
<line x1="685" y1="1580.0" x2="1063.3" y2="1580.0" stroke="#d9d9d9" stroke-width="2" />
<line x1="683.5" y1="1579" x2="683.5" y2="2115" stroke="#000" stroke-width="3" />
<line x1="676.7" y1="2114" x2="1063.4" y2="2114" stroke="#000" stroke-width="3" />
<line x1="676.7" y1="2113.5" x2="683.5" y2="2113.5" stroke="#000" stroke-width="3" />
<line x1="676.7" y1="2006.8" x2="683.5" y2="2006.8" stroke="#000" stroke-width="3" />
<line x1="676.7" y1="1900.1" x2="683.5" y2="1900.1" stroke="#000" stroke-width="3" />
<line x1="676.7" y1="1793.4" x2="683.5" y2="1793.4" stroke="#000" stroke-width="3" />
<line x1="676.7" y1="1686.7" x2="683.5" y2="1686.7" stroke="#000" stroke-width="3" />
<line x1="676.7" y1="1580.0" x2="683.5" y2="1580.0" stroke="#000" stroke-width="3" />
<line x1="682.8" y1="2114" x2="682.8" y2="2121.5" stroke="#000" stroke-width="3" />
<line x1="873.7" y1="2114" x2="873.7" y2="2121.5" stroke="#000" stroke-width="3" />
<line x1="1062" y1="2114" x2="1062" y2="2121.5" stroke="#000" stroke-width="3" />
<text x="661.5" y="2120.1" font-size="24.8" text-anchor="end" fill="#000" stroke="#000" stroke-width="0.45" font-weight="normal" >0</text>
<text x="661.5" y="2013.3999999999999" font-size="24.8" text-anchor="end" fill="#000" stroke="#000" stroke-width="0.45" font-weight="normal" >0.2</text>
<text x="661.5" y="1906.6999999999998" font-size="24.8" text-anchor="end" fill="#000" stroke="#000" stroke-width="0.45" font-weight="normal" >0.4</text>
<text x="661.5" y="1800.0" font-size="24.8" text-anchor="end" fill="#000" stroke="#000" stroke-width="0.45" font-weight="normal" >0.6</text>
<text x="661.5" y="1693.3" font-size="24.8" text-anchor="end" fill="#000" stroke="#000" stroke-width="0.45" font-weight="normal" >0.8</text>
<text x="661.5" y="1586.6" font-size="24.8" text-anchor="end" fill="#000" stroke="#000" stroke-width="0.45" font-weight="normal" >1.0</text>
<rect x="733.2" y="1841.68175" width="44.39999999999998" height="271.81825000000003" fill="#000" />
<rect x="779.1" y="1671.2285" width="45.0" height="442.27150000000006" fill="#a5a5a5" />
<rect x="922.5" y="1900.1" width="44.39999999999998" height="213.4000000000001" fill="#000" />
<rect x="969.1" y="1813.1395" width="43.89999999999998" height="300.3605" fill="#a5a5a5" />
<line x1="755.3" y1="1823.1" x2="755.3" y2="1871.68175" stroke="#000" stroke-width="1.8" />
<line x1="746.0" y1="1823.1" x2="764.5999999999999" y2="1823.1" stroke="#000" stroke-width="1.8" />
<line x1="746.0" y1="1871.68175" x2="764.5999999999999" y2="1871.68175" stroke="#000" stroke-width="1.8" />
<line x1="801.3" y1="1649.1" x2="801.3" y2="1694" stroke="#000" stroke-width="1.8" />
<line x1="792.0" y1="1649.1" x2="810.5999999999999" y2="1649.1" stroke="#000" stroke-width="1.8" />
<line x1="792.0" y1="1694" x2="810.5999999999999" y2="1694" stroke="#000" stroke-width="1.8" />
<line x1="944.6" y1="1883.3" x2="944.6" y2="1915" stroke="#000" stroke-width="1.8" />
<line x1="935.3000000000001" y1="1883.3" x2="953.9" y2="1883.3" stroke="#000" stroke-width="1.8" />
<line x1="935.3000000000001" y1="1915" x2="953.9" y2="1915" stroke="#000" stroke-width="1.8" />
<line x1="991.3" y1="1806.3" x2="991.3" y2="1818.2" stroke="#000" stroke-width="1.8" />
<line x1="982.0" y1="1806.3" x2="1000.5999999999999" y2="1806.3" stroke="#000" stroke-width="1.8" />
<line x1="982.0" y1="1818.2" x2="1000.5999999999999" y2="1818.2" stroke="#000" stroke-width="1.8" />
<path d="M801,1637.3 L801,1628.2 L984,1628.2 L984,1637.3" fill="none" stroke="#000" stroke-width="2.6" />
<text x="878" y="1627" font-size="22" text-anchor="start" fill="#000" stroke="#000" stroke-width="0.2" font-weight="bold" letter-spacing="1.2">***</text>
<rect x="1018.5" y="1610.2" width="12.2" height="12.4" fill="#000" />
<text x="1034.5" y="1626" font-size="24.8" text-anchor="start" fill="#000" stroke="#000" stroke-width="0.45" font-weight="normal" >siCtrl</text>
<rect x="1018.5" y="1662" width="12.2" height="12.4" fill="#a5a5a5" />
<text x="1034" y="1677.3" font-size="24.8" text-anchor="start" fill="#000" stroke="#000" stroke-width="0.45" font-weight="normal" >siUCHL3#3</text>
<text x="777.8" y="2148.6" font-size="24.8" text-anchor="middle" fill="#000" stroke="#000" stroke-width="0.45" font-weight="normal" >U2OS</text>
<text x="777.8" y="2178" font-size="24.8" text-anchor="middle" fill="#000" stroke="#000" stroke-width="0.45" font-weight="normal" >+ EV</text>
<text x="968.6" y="2148.6" font-size="24.8" text-anchor="middle" fill="#000" stroke="#000" stroke-width="0.45" font-weight="normal" >U2OS</text>
<text x="968.6" y="2178" font-size="24.8" text-anchor="middle" fill="#000" stroke="#000" stroke-width="0.45" font-weight="normal" >+ FLAG-UCHL3</text>
<text x="600" y="1838" font-size="24.8" text-anchor="middle" fill="#000" stroke="#000" stroke-width="0.45" font-weight="normal" transform="rotate(-90 600 1838)">Tail moment ratio (revovery/damaged)</text>
</svg>
</body></html>
